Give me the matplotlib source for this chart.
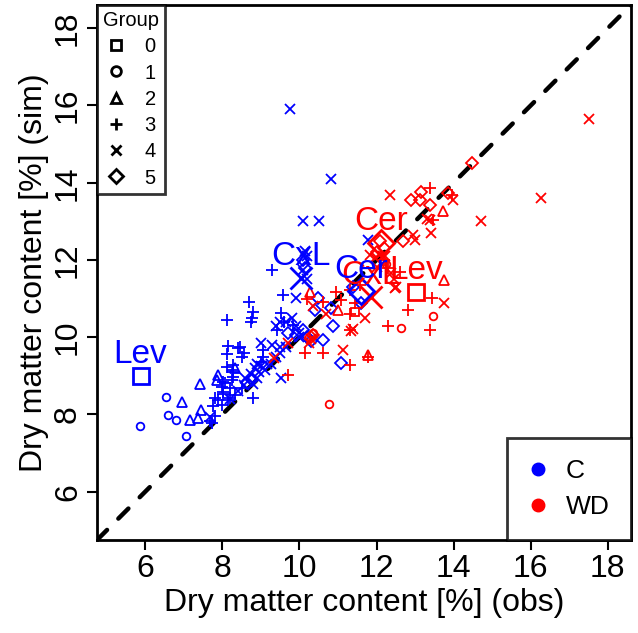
import matplotlib
matplotlib.use('Agg')
import matplotlib.pyplot as plt
from matplotlib.lines import Line2D

plt.rcParams['font.family'] = ['Liberation Sans', 'DejaVu Sans']

# ---------------- data ----------------
# Control (C, blue) observations by marker group
C_g1_obs = [6.55, 6.60, 6.80, 5.86, 7.07]
C_g1_sim = [8.46, 7.99, 7.86, 7.69, 7.43]
C_g2_obs = [7.42, 6.95, 7.15, 7.36, 7.44, 7.89, 8.32, 7.85]
C_g2_sim = [8.80, 8.32, 7.85, 7.92, 8.12, 9.03, 9.20, 8.90]
C_g3_obs = [9.30, 9.58, 8.69, 8.80, 8.78, 8.75, 8.13, 9.53, 8.15, 8.11, 8.41, 8.56, 9.05, 9.05,
            9.00, 8.11, 8.28, 8.28, 8.06, 8.02, 8.19, 7.81, 7.98, 8.80, 7.68, 7.81, 8.50, 9.41,
            9.60, 8.24, 8.02, 7.98, 8.19, 8.02, 8.32, 8.15, 7.89, 7.76, 7.72, 8.28, 8.28, 8.45,
            8.50, 9.83]
C_g3_sim = [11.73, 11.08, 10.92, 10.65, 10.50, 10.40, 10.45, 10.62, 9.78, 9.57, 9.72, 9.59, 9.67,
            9.50, 9.35, 9.24, 9.15, 8.98, 8.81, 8.57, 8.42, 8.42, 8.25, 8.42, 7.82, 7.95, 8.68,
            10.19, 10.40, 8.89, 8.85, 8.71, 8.68, 8.53, 8.51, 8.38, 8.38, 8.22, 7.77, 9.28, 9.11,
            9.75, 9.50, 10.32]
C_g4_obs = [9.75, 10.81, 10.09, 10.51, 11.78, 10.14, 10.20, 10.10, 10.20, 9.92, 9.40, 9.50, 9.65,
            9.80, 9.90, 10.00, 9.30, 9.50, 10.00, 9.00, 8.90, 8.85, 8.95, 9.00, 9.10, 9.15, 8.60,
            8.75, 8.80, 8.55, 8.90, 9.25, 9.40, 9.50, 9.65, 9.53, 7.68, 8.40, 8.20]
C_g4_sim = [15.90, 14.10, 13.01, 13.01, 12.52, 12.22, 12.10, 11.75, 11.50, 11.01, 10.30, 10.40,
            10.40, 10.50, 10.30, 10.10, 9.80, 9.75, 10.00, 9.85, 9.30, 9.20, 9.10, 9.25, 9.15, 9.30,
            8.95, 9.05, 8.80, 8.75, 8.95, 9.30, 9.50, 9.60, 9.75, 8.94, 7.94, 8.60, 8.40]
C_g5_obs = [8.63, 8.76, 9.70, 9.90, 10.20, 10.30, 10.10, 10.15, 10.48, 10.83, 10.40, 10.87, 10.61,
            10.09, 11.09, 11.60, 11.39]
C_g5_sim = [8.81, 8.90, 10.10, 10.05, 10.00, 9.90, 12.00, 11.80, 11.01, 10.75, 10.71, 10.28, 9.93,
            10.19, 9.33, 10.88, 11.31]

# Water deficit (WD, red)
W_g0_obs = [11.45]
W_g0_sim = [10.65]
W_g1_obs = [10.77, 13.46, 12.64, 10.35, 12.25]
W_g1_sim = [8.27, 10.56, 10.23, 10.10, 11.90]
W_g2_obs = [13.72, 13.76, 11.78, 10.27, 11.00]
W_g2_sim = [13.26, 11.49, 9.54, 11.18, 10.70]
W_g3_obs = [13.38, 13.97, 13.47, 13.45, 12.81, 12.30, 13.38, 11.30, 11.30, 11.78, 10.61, 10.14,
            11.43, 10.96, 10.20, 10.60, 12.30, 12.60, 11.56, 11.30, 11.09, 11.30, 9.70, 12.20]
W_g3_sim = [13.86, 13.69, 13.04, 11.01, 10.71, 10.28, 10.19, 10.19, 9.28, 9.50, 9.59, 9.59, 10.88,
            11.18, 11.00, 10.90, 11.80, 11.70, 11.36, 11.23, 10.97, 10.60, 9.02, 12.00]
W_g4_obs = [17.52, 16.27, 14.70, 12.34, 13.98, 13.38, 13.42, 12.95, 12.99, 12.21, 13.76, 11.69,
            12.47, 11.35, 11.13, 10.35, 10.30, 10.70, 11.82, 12.00, 12.17, 12.38, 11.95, 12.45,
            12.50, 9.35, 9.70, 10.25, 11.40, 13.30]
W_g4_sim = [15.65, 13.60, 13.00, 13.67, 13.56, 13.04, 12.70, 12.65, 12.52, 12.09, 10.88, 10.49,
            11.27, 10.15, 9.67, 10.80, 9.95, 10.60, 12.13, 11.83, 12.09, 11.66, 12.05, 11.50,
            11.30, 9.45, 9.85, 9.85, 10.20, 13.05]
W_g5_obs = [14.48, 13.16, 12.90, 13.12, 13.38, 13.85, 12.69, 12.10, 12.20, 12.00, 10.30, 10.35]
W_g5_sim = [14.51, 13.77, 13.56, 13.56, 13.43, 13.73, 12.48, 12.50, 12.30, 12.20, 10.00, 10.05]

# crop means (big symbols + labels)
crops = ['Lev', 'CxL', 'Cer']
crop_group = [0, 4, 5]
C_mean_obs = [5.88, 10.05, 11.60]
C_mean_sim = [9.00, 11.53, 11.20]
W_mean_obs = [13.03, 11.86, 12.12]
W_mean_sim = [11.18, 11.05, 12.44]

groups = ['0', '1', '2', '3', '4', '5']
treatments = ['C', 'WD']
ticks = [6, 8, 10, 12, 14, 16, 18]
lims = (4.75, 18.6)

# ---------------- style ----------------
BLUE = '#0000FF'
RED = '#FF0000'
markers = {0: 's', 1: 'o', 2: '^', 3: '+', 4: 'x', 5: 'D'}
msize = {0: 6, 1: 5.5, 2: 6.5, 3: 8.5, 4: 6.5, 5: 6}
big_size = {0: 11.5, 4: 16, 5: 13}

fig = plt.figure(figsize=(6.38, 6.33), dpi=100)
ax = fig.add_axes([97 / 638, 1 - 540 / 633, (631 - 97) / 638, (540 - 5) / 633])


def pts(x, y, g, col):
    ax.plot(x, y, ls='none', marker=markers[g], ms=msize[g], mfc='none', mec=col,
            mew=1.3, zorder=3)


pts(C_g1_obs, C_g1_sim, 1, BLUE)
pts(C_g2_obs, C_g2_sim, 2, BLUE)
pts(C_g3_obs, C_g3_sim, 3, BLUE)
pts(C_g4_obs, C_g4_sim, 4, BLUE)
pts(C_g5_obs, C_g5_sim, 5, BLUE)

pts(W_g0_obs, W_g0_sim, 0, RED)
pts(W_g1_obs, W_g1_sim, 1, RED)
pts(W_g2_obs, W_g2_sim, 2, RED)
pts(W_g3_obs, W_g3_sim, 3, RED)
pts(W_g4_obs, W_g4_sim, 4, RED)
pts(W_g5_obs, W_g5_sim, 5, RED)

# 1:1 line
ax.axline((0, 0), slope=1, color='black', lw=3.2, ls=(0, (3.2, 3.6)),
          dash_capstyle='round', zorder=2)


def means(mx, my, col):
    for name, g, x, y in zip(crops, crop_group, mx, my):
        ax.plot([x], [y], ls='none', marker=markers[g], ms=big_size[g], mfc='none',
                mec=col, mew=2, zorder=4)
        ax.text(x, y + 0.55, name, color=col, fontsize=24, ha='center', va='center',
                zorder=5)


means(W_mean_obs, W_mean_sim, RED)
means(C_mean_obs, C_mean_sim, BLUE)

ax.set_xlim(lims)
ax.set_ylim(lims)
ax.set_xticks(ticks)
ax.set_yticks(ticks)
ax.set_xticklabels([str(t) for t in ticks], fontsize=23)
ax.set_yticklabels([str(t) for t in ticks], fontsize=23, rotation=90, va='center')
ax.tick_params(axis='both', direction='out', length=7, width=1.5, pad=3)
for s in ax.spines.values():
    s.set_linewidth(2)

ax.set_xlabel('Dry matter content [%] (obs)', fontsize=23, labelpad=3)
ax.set_ylabel('Dry matter content [%] (sim)', fontsize=23, labelpad=3)

# group legend (top-left)
g_handles = [Line2D([], [], ls='none', marker=markers[i], ms=7 if i != 3 else 9,
                    mfc='none', mec='black', mew=2) for i in range(6)]
leg1 = ax.legend(g_handles, groups, loc='upper left', title='Group', fontsize=14.5,
                 title_fontsize=14.5, frameon=True, fancybox=False, borderaxespad=0,
                 handlelength=1.0, handletextpad=0.9, labelspacing=0.36,
                 borderpad=0.3)
leg1.get_frame().set_edgecolor('black')
leg1.get_frame().set_linewidth(2)
ax.add_artist(leg1)

# treatment legend (bottom-right)
t_handles = [Line2D([], [], ls='none', marker='o', ms=9, mfc=BLUE, mec=BLUE),
             Line2D([], [], ls='none', marker='o', ms=9, mfc=RED, mec=RED)]
leg2 = ax.legend(t_handles, treatments, loc='lower right', fontsize=19, frameon=True,
                 fancybox=False, borderaxespad=0, handlelength=0.8, handletextpad=0.65,
                 labelspacing=0.45, borderpad=0.8)
leg2.get_frame().set_edgecolor('black')
leg2.get_frame().set_linewidth(2)

fig.savefig('out.png', dpi=100)
